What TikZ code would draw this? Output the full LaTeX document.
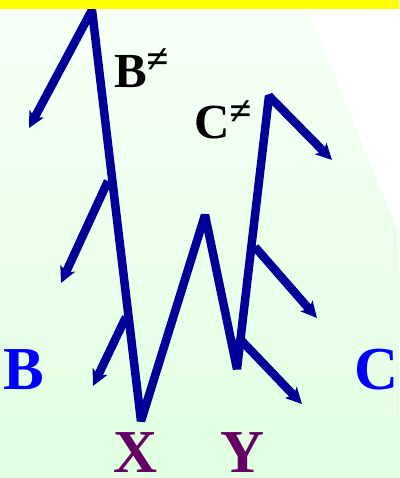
\documentclass[tikz,border=0pt]{standalone}
\usepackage{fontspec}
\setmainfont{Liberation Serif}
\usetikzlibrary{arrows.meta}
\definecolor{navy}{HTML}{000099}
\definecolor{lblue}{HTML}{0000FF}
\definecolor{purp}{HTML}{660066}
\definecolor{yel}{HTML}{FFFF00}
\newcommand{\neqsign}[1]{\raisebox{#1}{\fontsize{40}{40}\selectfont\itshape ≠}}
\begin{document}
\begin{tikzpicture}[x=1pt,y=-1pt,
  ln/.style={draw=navy,line width=8.5pt,line join=bevel},
  arr/.style={ln,-{Stealth[length=16pt,width=16pt,inset=4pt]}},
  lab/.style={inner sep=0pt,text depth=0pt,font=\bfseries\fontsize{61}{61}\selectfont},
  sub/.style={inner sep=0pt,text depth=0pt,text=black,font=\bfseries\fontsize{49}{49}\selectfont}]
\useasboundingbox (0,0) rectangle (399,478);
\shade[top color=green!3!white,bottom color=green!12!white] (0,0) rectangle (399,478);
\fill[white] (308,10) -- (399,10) -- (399,233) -- cycle;
% points
\coordinate (t1) at (29,128);
\coordinate (p1) at (92,10);
\coordinate (x) at (141,421);
\coordinate (p2) at (205,215);
\coordinate (y) at (237,369);
\coordinate (p3) at (269,96);
\coordinate (t2) at (332,160);
\coordinate (b1s) at (108,181);
\coordinate (b1t) at (61,283);
\coordinate (b2s) at (126,317);
\coordinate (b2t) at (93,386);
\coordinate (c1s) at (255,247);
\coordinate (c1t) at (317,318);
\coordinate (c2s) at (238,337);
\coordinate (c2t) at (302,404);
% lines
\draw[ln,{Stealth[length=16pt,width=16pt,inset=4pt]}-{Stealth[length=16pt,width=16pt,inset=4pt]}]
  (t1) -- (p1) -- (x) -- (p2) -- (y) -- (p3) -- (t2);
\draw[arr] (b1s) -- (b1t);
\draw[arr] (b2s) -- (b2t);
\draw[arr] (c1s) -- (c1t);
\draw[arr] (c2s) -- (c2t);
\fill[yel] (0,0) rectangle (399,9.5);
% labels
\node[sub,anchor=base west] (bn) at (114,88) {B\neqsign{15.5pt}};
\node[sub,anchor=base west] (cn) at (194,139) {C\neqsign{14pt}};
\node[lab,text=lblue,anchor=base west] (B) at (3,389) {B};
\node[lab,text=lblue,anchor=base west] (C) at (354,389) {C};
\node[lab,text=purp,anchor=base west] (X) at (113,472) {X};
\node[lab,text=purp,anchor=base west] (Y) at (220,472) {Y};
\end{tikzpicture}
\end{document}
